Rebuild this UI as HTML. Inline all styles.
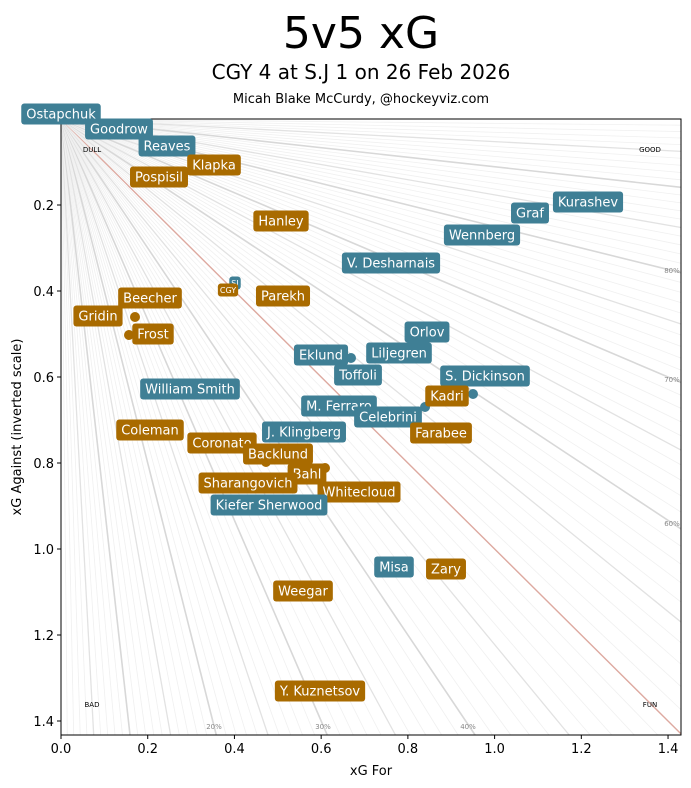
<!DOCTYPE html>
<html><head><meta charset="utf-8"><style>
html,body{margin:0;padding:0;background:#fff;overflow:hidden;width:691px;height:788px;}
svg{display:block;}
svg text{font-family:"DejaVu Sans","Liberation Sans",sans-serif;}
</style></head><body>
<svg width="691" height="788" xmlns="http://www.w3.org/2000/svg">
<rect width="691" height="788" fill="#fff"/>
<text x="361" y="48" font-size="44" text-anchor="middle">5v5 xG</text>
<text x="361" y="79" font-size="20" text-anchor="middle">CGY 4 at S.J 1 on 26 Feb 2026</text>
<text x="361" y="103" font-size="13" text-anchor="middle">Micah Blake McCurdy, @hockeyviz.com</text>
<g id="fan"></g>
<g font-size="7" fill="#000">
<text x="92" y="152" text-anchor="middle">DULL</text>
<text x="650" y="152" text-anchor="middle">GOOD</text>
<text x="92" y="707" text-anchor="middle">BAD</text>
<text x="650" y="707" text-anchor="middle">FUN</text>
</g>
<g font-size="7" fill="#888" text-anchor="middle">
<text x="214" y="729">20%</text><text x="323" y="729">30%</text><text x="468" y="729">40%</text>
<text x="672" y="273">80%</text><text x="672" y="382">70%</text><text x="672" y="526">60%</text>
</g>
<rect x="61" y="119" width="620" height="616" fill="none" stroke="#000" stroke-width="1"/>
<g id="ticks" font-size="13"></g>
<text x="371" y="775" font-size="13" text-anchor="middle">xG For</text>
<text x="0" y="0" font-size="13" text-anchor="middle" transform="translate(21,427) rotate(-90)">xG Against (inverted scale)</text>
<g id="dots"></g>
<g id="labels"></g>
</svg>
<script>
const NS="http://www.w3.org/2000/svg";
function el(t,a,p){const e=document.createElementNS(NS,t);for(const k in a)e.setAttribute(k,a[k]);p.appendChild(e);return e;}
const fan=document.getElementById('fan');
for(let i=1;i<100;i++){const p=i/100;const dx=p*433.6,dy=(1-p)*430;const L=Math.min(620/dx,616/dy);
 let c,w; if(i%10==0){c='#d8d8d8';w=1.6;} else if(i%5==0){c='#e2e2e2';w=1.3;} else {c='#f0f0f0';w=0.8;}
 if(i==50){c='#dda9a0';w=1.4;}
 el('line',{x1:61,y1:119,x2:61+dx*L,y2:119+dy*L,stroke:c,'stroke-width':w},fan);}
const tk=document.getElementById('ticks');
[0,0.2,0.4,0.6,0.8,1.0,1.2,1.4].forEach(v=>{const x=61+v*433.6;el('line',{x1:x,y1:735,x2:x,y2:739,stroke:'#000'},tk);
 const t=el('text',{x:x,y:753,'text-anchor':'middle'},tk);t.textContent=v.toFixed(1);});
[0.2,0.4,0.6,0.8,1.0,1.2,1.4].forEach(v=>{const y=119+v*430;el('line',{x1:57,y1:y,x2:61,y2:y,stroke:'#000'},tk);
 const t=el('text',{x:54,y:y+5,'text-anchor':'end'},tk);t.textContent=v.toFixed(1);});
const T='#3f7f95',G='#a96b00';
const dots=document.getElementById('dots');
[[135,317,G],[129,335,G],[351,358,T],[473,394,T],[425,407,T],[325,468,G],[266,462,G],[307,462,G]].forEach(d=>el('circle',{cx:d[0],cy:d[1],r:5,fill:d[2]},dots));
const L2=[
["Ostapchuk",61,114,T],["Goodrow",119,129,T],["Reaves",167,146,T],["Klapka",214,165,G],["Pospisil",159,177,G],
["Hanley",281,221,G],["Kurashev",588,202,T],["Graf",530,213,T],["Wennberg",482,235,T],["V. Desharnais",391,263,T],
["Parekh",283,296,G],["Beecher",150,298,G],["Gridin",98,316,G],["Frost",153,334,G],["Orlov",427,332,T],
["Eklund",321,355,T],["Liljegren",399,353,T],["Toffoli",358,375,T],["S. Dickinson",485,376,T],["Kadri",447,396,G],
["William Smith",190,389,T],["M. Ferraro",339,406,T],["Celebrini",388,417,T],["Farabee",441,433,G],["Coleman",150,430,G],
["Coronato",222,443,G],["J. Klingberg",304,432,T],["Backlund",278,454,G],["Bahl",307,474,G],["Sharangovich",248,483,G],
["Whitecloud",359,492,G],["Kiefer Sherwood",269,505,T],["Misa",394,567,T],["Zary",446,569,G],["Weegar",303,591,G],["Y. Kuznetsov",320,691,G]];
const lb=document.getElementById('labels');
function lab(s,cx,cy,c,fs,pad,h){const g=el('g',{},lb);const t=el('text',{x:cx,y:cy+fs*0.36,'font-size':fs,fill:'#fff','text-anchor':'middle'},g);t.textContent=s;
 const w=t.getComputedTextLength()+pad*2;const r=el('rect',{x:cx-w/2,y:cy-h/2,width:w,height:h,rx:3,fill:c},g);g.insertBefore(r,t);}
lab("SJ",235,283,T,8,2,13);lab("CGY",228,290,G,8,2,13);
L2.forEach(a=>lab(a[0],a[1],a[2],a[3],13,5,21));
</script>
</body></html>
